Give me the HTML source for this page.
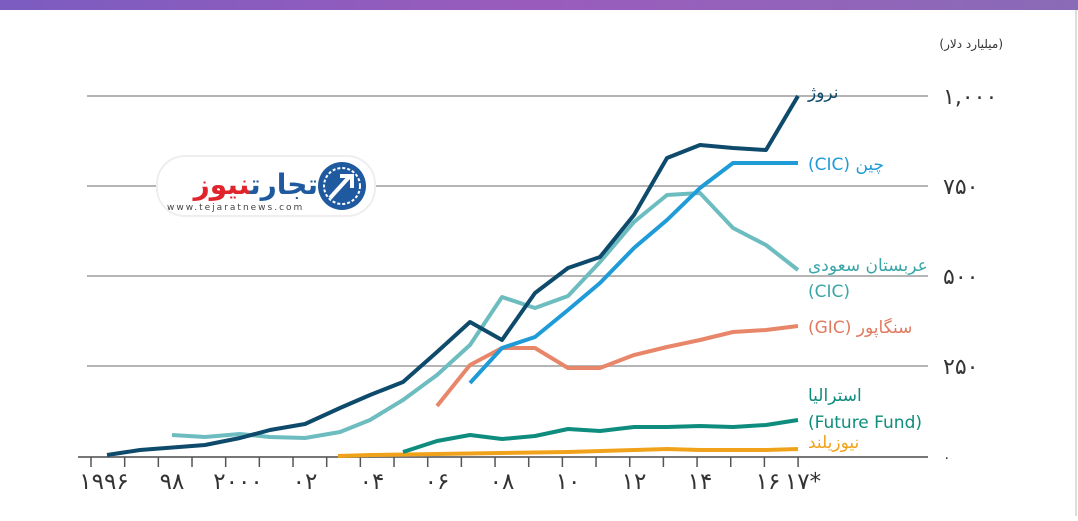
<!DOCTYPE html>
<html><head><meta charset="utf-8"><style>
body{margin:0;width:1078px;height:516px;overflow:hidden;background:#fff;font-family:"Liberation Sans","DejaVu Sans",sans-serif}
</style></head><body>
<svg width="1078" height="516" xmlns="http://www.w3.org/2000/svg" font-family="'DejaVu Sans','Liberation Sans',sans-serif">
<defs><linearGradient id="g" x1="0" x2="1"><stop offset="0" stop-color="#7b5cc0"/><stop offset="0.5" stop-color="#9a5cbc"/><stop offset="1" stop-color="#8a6bb8"/></linearGradient></defs>
<rect x="0" y="0" width="1078" height="10" fill="url(#g)"/>
<line x1="1076" y1="10" x2="1076" y2="516" stroke="#ddd" stroke-width="2"/>
<text x="1003" y="48" font-size="12" fill="#333" text-anchor="end">(میلیارد دلار)</text>
<g stroke="#b5b5b5" stroke-width="2">
<line x1="87" y1="96" x2="928" y2="96"/><line x1="87" y1="186" x2="928" y2="186"/>
<line x1="87" y1="276" x2="928" y2="276"/><line x1="87" y1="366" x2="928" y2="366"/>
</g>
<line x1="78" y1="457" x2="928" y2="457" stroke="#777" stroke-width="2"/>
<g stroke="#555" stroke-width="1.5" id="ticks"></g>
<g font-size="22" fill="#333">
<text x="943" y="104">۱,۰۰۰</text><text x="943" y="194">۷۵۰</text><text x="943" y="284">۵۰۰</text><text x="943" y="374">۲۵۰</text><text x="943" y="462" font-size="14">۰</text>
</g>
<g font-size="23" fill="#333" text-anchor="middle">
<text x="104" y="489">۱۹۹۶</text><text x="172" y="489">۹۸</text><text x="238" y="489">۲۰۰۰</text><text x="305" y="489">۰۲</text><text x="372" y="489">۰۴</text><text x="437" y="489">۰۶</text><text x="502" y="489">۰۸</text><text x="568" y="489">۱۰</text><text x="634" y="489">۱۲</text><text x="700" y="489">۱۴</text><text x="768" y="489">۱۶</text><text x="803" y="489">۱۷*</text>
</g>
<g fill="none" stroke-width="4" stroke-linejoin="round">
<polyline stroke="#f0a31a" points="338,456 370,455 437,454 500,453 568,452 634,450 667,449 700,450 766,450 798,449"/>
<polyline stroke="#0e8c7d" points="403,452 437,441 470,435 502,439 535,436 568,429 600,431 634,427 667,427 700,426 733,427 766,425 798,420"/>
<polyline stroke="#e8866a" points="437,406 470,365 502,348 535,348 568,368 600,368 634,355 667,347 700,340 733,332 766,330 798,326"/>
<polyline stroke="#6dbcc0" points="172,435 205,437 240,434 270,437 305,438 340,432 370,420 403,400 437,375 470,345 502,297 535,308 568,296 600,262 634,222 667,195 700,193 733,228 766,245 798,270"/>
<polyline stroke="#1f9bd7" points="470,383 502,348 535,337 568,310 600,283 634,248 667,220 700,188 733,163 798,163"/>
<polyline stroke="#0e4a6b" points="107,455 140,450 205,445 240,438 270,430 305,424 340,408 370,395 403,382 437,352 470,322 502,340 535,293 568,268 600,257 634,215 667,158 700,145 733,148 766,150 798,96"/>
</g>
<g font-size="17">
<text x="808" y="98" fill="#0e4a6b">نروژ</text>
<text x="808" y="170" fill="#1f9bd7">(CIC) چین</text>
<text x="808" y="271" fill="#3aa6a8">عربستان سعودی</text>
<text x="808" y="297" fill="#3aa6a8">(CIC)</text>
<text x="808" y="333" fill="#e07a5f">(GIC) سنگاپور</text>
<text x="808" y="401" fill="#0e8c7d">استرالیا</text>
<text x="808" y="428" fill="#0e8c7d">(Future Fund)</text>
<text x="808" y="448" fill="#f0a31a">نیوزیلند</text>
</g>
<rect x="157" y="156" width="218" height="60" rx="28" fill="#fff" stroke="#eee" stroke-width="2"/>
<circle cx="342" cy="186" r="24" fill="#1f5aa0"/>
<circle cx="342" cy="186" r="18" fill="none" stroke="#fff" stroke-width="2" stroke-dasharray="3 2"/>
<path d="M330 198 L350 176 M340 176 L352 176 L352 188" stroke="#fff" stroke-width="4" fill="none"/>
<text x="318" y="194" font-size="28" font-weight="bold" fill="#1f5aa0" text-anchor="end">تجارت<tspan fill="#e0242b">نیوز</tspan></text>
<text x="167" y="210" font-size="9" fill="#444" letter-spacing="2">www.tejaratnews.com</text>
</svg>
<script>
var g=document.getElementById('ticks'),s='';
for(var k=0;k<=21;k++){var x=91+33.67*k;s+='<line x1="'+x+'" y1="457" x2="'+x+'" y2="467"/>';}
g.innerHTML=s;
</script>
</body></html>
